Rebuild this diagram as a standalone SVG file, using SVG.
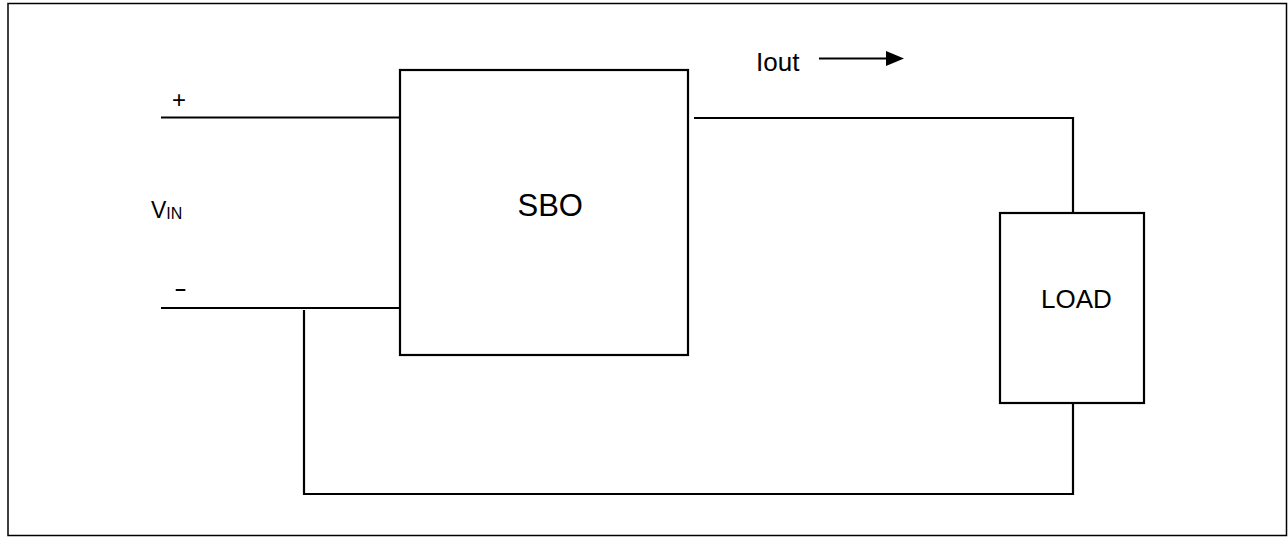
<svg xmlns="http://www.w3.org/2000/svg" width="1288" height="537" viewBox="0 0 1288 537">
  <style>
    .wire { stroke: #000; stroke-width: 2.2; fill: none; }
    .box { stroke: #000; stroke-width: 2.2; fill: #fff; }
    .lbl { font-family: "Liberation Sans", Arial, sans-serif; fill: #000; }
  </style>
  <rect x="0" y="0" width="1288" height="537" fill="#fff"/>
  <!-- outer frame -->
  <rect x="8" y="3.5" width="1278.5" height="532" fill="none" stroke="#000" stroke-width="1.5"/>

  <g id="connectors">
    <line class="wire" x1="161" y1="117.5" x2="400" y2="117.5"/>
    <line class="wire" x1="161" y1="308" x2="400" y2="308"/>
    <polyline class="wire" points="304,310 304,494 1073,494 1073,404"/>
    <polyline class="wire" points="694,118 1073,118 1073,213"/>
    <line x1="819" y1="58.5" x2="888" y2="58.5" stroke="#000" stroke-width="2"/>
    <path d="M886,51 L904,58.5 L886,66 z" fill="#000"/>
  </g>

  <g id="sbo">
    <rect class="box" x="400" y="70" width="288" height="285"/>
    <text class="lbl" x="517.5" y="216" font-size="31">SBO</text>
  </g>

  <g id="load">
    <rect class="box" x="1000" y="213" width="144" height="190"/>
    <text class="lbl" x="1041" y="308" font-size="26">LOAD</text>
  </g>

  <g id="labels">
    <text class="lbl" x="172" y="108" font-size="24">+</text>
    <text class="lbl" x="174" y="296" font-size="24" textLength="13" lengthAdjust="spacingAndGlyphs">-</text>
    <text class="lbl" x="151" y="218" font-size="23">V<tspan font-size="16" dy="1">IN</tspan></text>
    <text class="lbl" x="756" y="71" font-size="26">Iout</text>
  </g>
</svg>
